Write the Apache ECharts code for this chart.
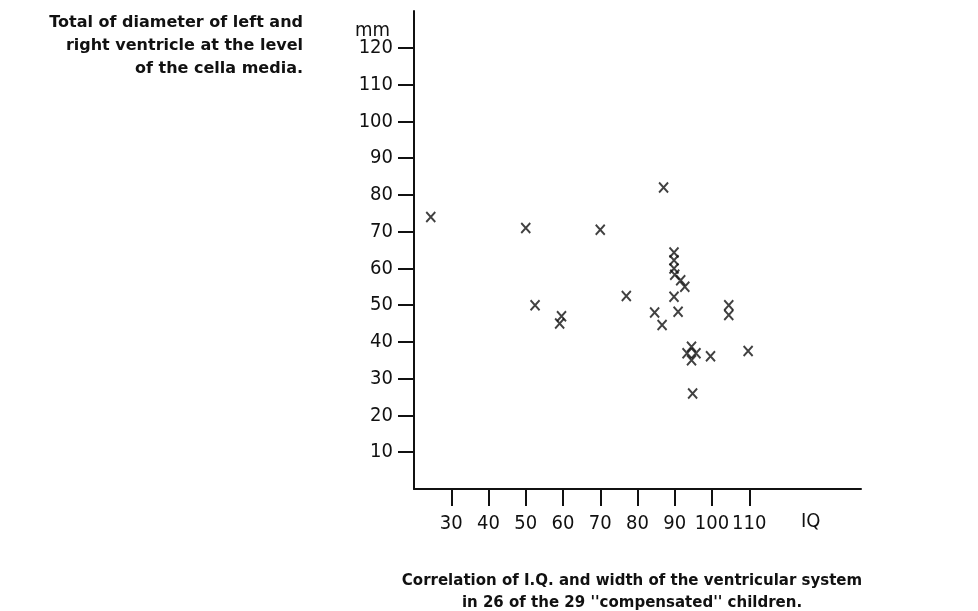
<!DOCTYPE html>
<html>
<head>
<meta charset="utf-8">
<script src="https://cdn.jsdelivr.net/npm/echarts@6/dist/echarts.min.js"></script>
<style>
  html, body { margin: 0; padding: 0; background: #fff; }
  #main { width: 978px; height: 611px; }
</style>
</head>
<body>
<div id="main"></div>
<script>
  // IQ (x) and total ventricle diameter in mm (y)
  const iq = [24.5, 50, 70, 87, 52.5, 59.6, 59.1, 77, 84.6, 86.6, 90.9, 89.8, 89.8, 89.8, 89.8, 90,
    91.6, 92.7, 104.5, 104.5, 109.7, 99.6, 94.5, 93.3, 95.7, 94.5, 94.8];
  const mm = [74, 71, 70.5, 82, 50, 47, 45, 52.5, 48, 44.6, 48.2, 52.3, 64.3, 62.2, 60, 58.3,
    56.8, 55, 50, 47.3, 37.5, 36.1, 38.7, 36.9, 36.9, 35, 26];
  const xTicks = [30, 40, 50, 60, 70, 80, 90, 100, 110];
  const yTicks = [10, 20, 30, 40, 50, 60, 70, 80, 90, 100, 110, 120];

  const points = iq.map((v, i) => [v, mm[i]]);
  const labelFont = "'DejaVu Sans Condensed', 'DejaVu Sans', sans-serif";
  const capFont = "bold 16px 'DejaVu Sans', sans-serif";

  const chart = echarts.init(document.getElementById('main'));
  const option = {
    animation: false,
    grid: { left: 414, right: 117, top: 11, bottom: 122 },
    xAxis: {
      type: 'value', min: 20, max: 140,
      splitLine: { show: false },
      axisLine: { lineStyle: { color: '#111', width: 2 } },
      axisTick: { customValues: xTicks, length: 17, lineStyle: { color: '#111', width: 2 } },
      axisLabel: { customValues: xTicks, color: '#111', fontSize: 20, fontFamily: labelFont, margin: 25 }
    },
    yAxis: {
      type: 'value', min: 0, max: 130,
      splitLine: { show: false },
      axisLine: { lineStyle: { color: '#111', width: 2 } },
      axisTick: { customValues: yTicks, length: 16, lineStyle: { color: '#111', width: 2 } },
      axisLabel: { customValues: yTicks, color: '#111', fontSize: 20, fontFamily: labelFont, margin: 21 }
    },
    series: [{
      type: 'scatter',
      data: points,
      symbol: 'path://M0,0L10,11M10,0L0,11',
      symbolSize: [9, 10],
      itemStyle: { color: 'none', borderColor: '#111', borderWidth: 2 }
    }],
    graphic: [
      { type: 'text', style: { x: 355, y: 21, text: 'mm', font: "20px " + labelFont, fill: '#111' } },
      { type: 'text', style: { x: 801, y: 512, text: 'IQ', font: "20px " + labelFont, fill: '#111' } },
      { type: 'text', style: {
          x: 303, y: 11,
          text: 'Total of diameter of left and\nright ventricle at the level\nof the cella media.',
          font: capFont, fill: '#111', align: 'right', lineHeight: 23 } },
      { type: 'text', style: {
          x: 632, y: 570,
          text: 'Correlation of I.Q. and width of the ventricular system\nin 26 of the 29 \'\'compensated\'\' children.',
          font: "bold 15px 'DejaVu Sans', sans-serif", fill: '#111', align: 'center', lineHeight: 22 } }
    ]
  };
  chart.setOption(option);
</script>
</body>
</html>
